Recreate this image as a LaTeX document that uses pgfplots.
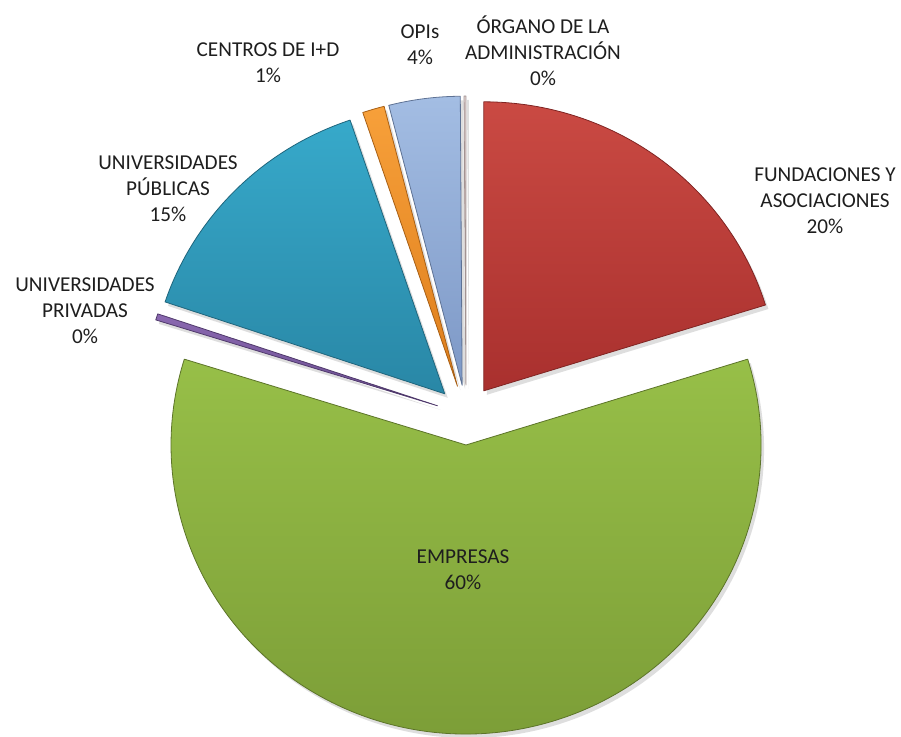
\documentclass[border=0pt]{standalone}
\usepackage{fontspec}
\setmainfont{Carlito}
\usepackage{pgfplots}
\pgfplotsset{compat=1.18}
\definecolor{fundT}{HTML}{CA4A43}
\definecolor{fundB}{HTML}{A9302E}
\definecolor{empT}{HTML}{97BF48}
\definecolor{empB}{HTML}{7A9B36}
\definecolor{privT}{HTML}{8A68B0}
\definecolor{privB}{HTML}{6A4E90}
\definecolor{pubT}{HTML}{37A9CA}
\definecolor{pubB}{HTML}{2987A6}
\definecolor{cenT}{HTML}{F7A03A}
\definecolor{cenB}{HTML}{DE7E1C}
\definecolor{opiT}{HTML}{A3BDE3}
\definecolor{opiB}{HTML}{7D98C6}
\definecolor{orgT}{HTML}{E2D3D2}
\definecolor{orgB}{HTML}{D8C4C3}
\definecolor{txt}{HTML}{1E1E1E}
\begin{document}
\begin{tikzpicture}
\begin{axis}[
  width=450.5pt, height=368.5pt, scale only axis,
  xmin=0, xmax=901, ymin=0, ymax=737,
  hide axis, clip=false,
]
\path (rel axis cs:0,0) rectangle (rel axis cs:1,1);
\pgfplotsextra{
  \xdef\curang{90}
  \foreach \v/\ct/\cb in {20.2/fundT/fundB, 59.6/empT/empB, 0.35/privT/privB, 14.65/pubT/pubB, 1.2/cenT/cenB, 3.9/opiT/opiB, 0.1/orgT/orgB} {
    \pgfmathsetmacro\angS{\curang}
    \pgfmathsetmacro\angE{\angS-3.6*\v}
    \pgfmathsetmacro\angM{(\angS+\angE)/2}
    \pgfmathsetmacro\vx{466+30*cos(\angM)}
    \pgfmathsetmacro\vy{322+30*sin(\angM)}
    \pgfmathsetmacro\px{147.5*cos(\angS)}
    \pgfmathsetmacro\py{144.5*sin(\angS)}
    \fill[overlay,black,opacity=0.13] ([xshift=1.5pt,yshift=-2pt]axis cs:\vx,\vy) -- ++(\px pt,\py pt) arc[start angle=\angS,end angle=\angE,x radius=147.5pt,y radius=144.5pt] -- cycle;
    \shade[overlay,top color=\ct, bottom color=\cb] (axis cs:\vx,\vy) -- ++(\px pt,\py pt) arc[start angle=\angS,end angle=\angE,x radius=147.5pt,y radius=144.5pt] -- cycle;
    \draw[overlay,\cb!75!black, line width=0.4pt, line join=round] (axis cs:\vx,\vy) -- ++(\px pt,\py pt) arc[start angle=\angS,end angle=\angE,x radius=147.5pt,y radius=144.5pt] -- cycle;
    \xdef\curang{\angE}
  }
}
\begin{scope}[every node/.style={align=center, inner sep=0pt, text=txt, font=\fontsize{10.6}{13}\selectfont}]
\node at (axis cs:825,536) {FUNDACIONES Y\\ASOCIACIONES\\20\%};
\node at (axis cs:463,167) {EMPRESAS\\60\%};
\node at (axis cs:85,426) {UNIVERSIDADES\\PRIVADAS\\0\%};
\node at (axis cs:168,548) {UNIVERSIDADES\\PÚBLICAS\\15\%};
\node at (axis cs:268,674) {CENTROS DE I+D\\1\%};
\node at (axis cs:420,692) {OPIs\\4\%};
\node at (axis cs:543,686) {ÓRGANO DE LA\\ADMINISTRACIÓN\\0\%};
\end{scope}
\end{axis}
\end{tikzpicture}
\end{document}
